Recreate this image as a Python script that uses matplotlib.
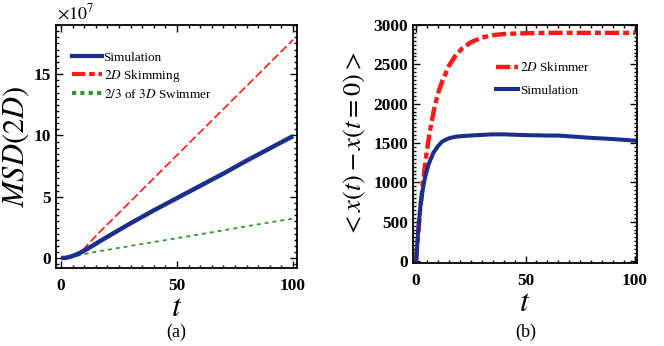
import matplotlib
matplotlib.use("Agg")
import matplotlib.pyplot as plt
from matplotlib.lines import Line2D
from matplotlib.ticker import MultipleLocator, FuncFormatter

plt.rcParams["font.family"] = "Liberation Serif"
plt.rcParams["mathtext.fontset"] = "stix"

# ---- panel (a): MSD, values in units of 1e7 ----
msd_scale = 1e7
t_sim_a = [0, 2, 4, 6, 8, 10, 13, 16, 20, 30, 40, 50, 60, 70, 80, 90, 100]
msd_sim = [0, 0.03, 0.12, 0.25, 0.42, 0.62, 0.95, 1.3, 1.75, 2.85, 3.9, 4.9,
           5.9, 6.9, 7.95, 8.95, 9.95]
t_skim_a = [0, 2, 4, 6, 8, 10, 12, 14, 17, 20, 30, 40, 50, 60, 70, 80, 90, 100]
msd_skim = [0, 0.03, 0.12, 0.28, 0.5, 0.8, 1.2, 1.62, 2.2, 2.76, 4.64, 6.52,
            8.4, 10.28, 12.16, 14.04, 15.92, 17.8]
t_swim_a = [0, 2, 4, 6, 8, 10, 15, 20, 30, 40, 50, 60, 70, 80, 90, 100]
msd_swim = [0, 0.02, 0.07, 0.15, 0.24, 0.33, 0.52, 0.68, 1.0, 1.32, 1.63,
            1.95, 2.27, 2.6, 2.92, 3.23]

# ---- panel (b): mean displacement ----
t_skim_b = [0, 1, 2, 3, 4, 5, 6, 8, 10, 12, 15, 18, 21, 25, 30, 35, 40, 50,
            60, 80, 100]
x_skim = [0, 360, 690, 960, 1200, 1410, 1600, 1900, 2130, 2290, 2480, 2610,
          2700, 2780, 2840, 2870, 2885, 2895, 2900, 2900, 2900]
t_sim_b = [0, 1, 2, 3, 4, 5, 6, 8, 10, 12, 15, 18, 22, 28, 35, 40, 50, 60,
           65, 70, 80, 90, 100]
x_sim = [0, 400, 700, 900, 1050, 1160, 1250, 1380, 1460, 1520, 1560, 1580,
         1590, 1600, 1610, 1610, 1600, 1595, 1595, 1585, 1565, 1550, 1530]

navy = "#1a2f8c"
red = "#ff1a1a"
green = "#2e9a2e"
skim_dash = (3.2, 0.9, 1.35, 0.9)


def style_axes(ax):
    for s in ax.spines.values():
        s.set_linewidth(1.3)
    ax.tick_params(which="both", direction="in", top=True, right=True,
                   width=1.0, labelsize=12.5)
    ax.tick_params(which="major", length=5)
    ax.tick_params(which="minor", length=2.5)
    for lab in ax.get_xticklabels() + ax.get_yticklabels():
        lab.set_fontweight("bold")


fig = plt.figure(figsize=(6.64, 3.46), dpi=100)

# panel (a)
ax1 = fig.add_axes([0.0843, 0.2254, 0.3630, 0.7023])
ax1.plot(t_skim_a, [v * msd_scale for v in msd_skim], color=red, lw=1.2,
         dashes=(5, 2))
ax1.plot(t_swim_a, [v * msd_scale for v in msd_swim], color=green, lw=1.3,
         dashes=(2.2, 2.2))
ax1.plot(t_sim_a, [v * msd_scale for v in msd_sim], color=navy, lw=3.2,
         solid_capstyle="butt")
ax1.set_xlim(-2.2, 101.7)
ax1.set_ylim(-0.8e7, 19e7)
ax1.xaxis.set_major_locator(MultipleLocator(50))
ax1.xaxis.set_minor_locator(MultipleLocator(5))
ax1.yaxis.set_major_locator(MultipleLocator(5e7))
ax1.yaxis.set_minor_locator(MultipleLocator(0.5e7))
ax1.yaxis.set_major_formatter(FuncFormatter(lambda v, p: f"{v / msd_scale:g}"))
ax1.xaxis.set_major_formatter(FuncFormatter(lambda v, p: f"{v:g}"))
style_axes(ax1)
ax1.tick_params(axis="x", pad=7)
ax1.text(0.005, 1.01, r"$\times 10^{7}$", transform=ax1.transAxes,
         fontsize=13, ha="left", va="bottom")
ax1.set_xlabel(r"$t$", fontsize=23, labelpad=0)
ax1.set_ylabel(r"$MSD(2D)$", fontsize=22, labelpad=2)

handles_a = [
    Line2D([], [], color=navy, lw=3),
    Line2D([], [], color=red, lw=3, dashes=skim_dash, dash_capstyle="butt"),
    Line2D([], [], color=green, lw=3, dashes=(1, 1), dash_capstyle="butt"),
]
labels_a = ["Simulation", r"$2D$ Skimming", r"$2/3$ of $3D$ Swimmer"]
ax1.legend(handles_a, labels_a, loc="upper left", bbox_to_anchor=(0.066, 0.891),
           frameon=False, fontsize=9.5, handlelength=2.3, handletextpad=0.1,
           borderpad=0, borderaxespad=0, labelspacing=0.3)

# panel (b)
ax2 = fig.add_axes([0.6220, 0.2399, 0.3373, 0.6879])
ax2.plot(t_skim_b, x_skim, color=red, lw=3.2, dashes=skim_dash,
         dash_capstyle="butt", label=r"$2D$ Skimmer")
ax2.plot(t_sim_b, x_sim, color=navy, lw=2.9, label="Simulation")
ax2.set_xlim(-1.4, 100.9)
ax2.set_ylim(-25, 3000)
ax2.xaxis.set_major_locator(MultipleLocator(50))
ax2.xaxis.set_minor_locator(MultipleLocator(5))
ax2.yaxis.set_major_locator(MultipleLocator(500))
ax2.yaxis.set_minor_locator(MultipleLocator(50))
ax2.xaxis.set_major_formatter(FuncFormatter(lambda v, p: f"{v:g}"))
ax2.yaxis.set_major_formatter(FuncFormatter(lambda v, p: f"{v:g}"))
style_axes(ax2)
ax2.tick_params(axis="x", pad=7)
ax2.set_xlabel(r"$t$", fontsize=23, labelpad=0)
ax2.set_ylabel(r"$<x(t)-x(t=0)>$", fontsize=19, labelpad=4)
ax2.legend(loc="upper left", bbox_to_anchor=(0.37, 0.847), frameon=False,
           fontsize=9.5, handlelength=1.7, handletextpad=0.1, borderpad=0,
           borderaxespad=0, labelspacing=0.75)

fig.text(0.265, 0.04, "(a)", fontsize=13, ha="center", va="center")
fig.text(0.792, 0.04, "(b)", fontsize=13, ha="center", va="center")

fig.savefig("out.png", dpi=100)
